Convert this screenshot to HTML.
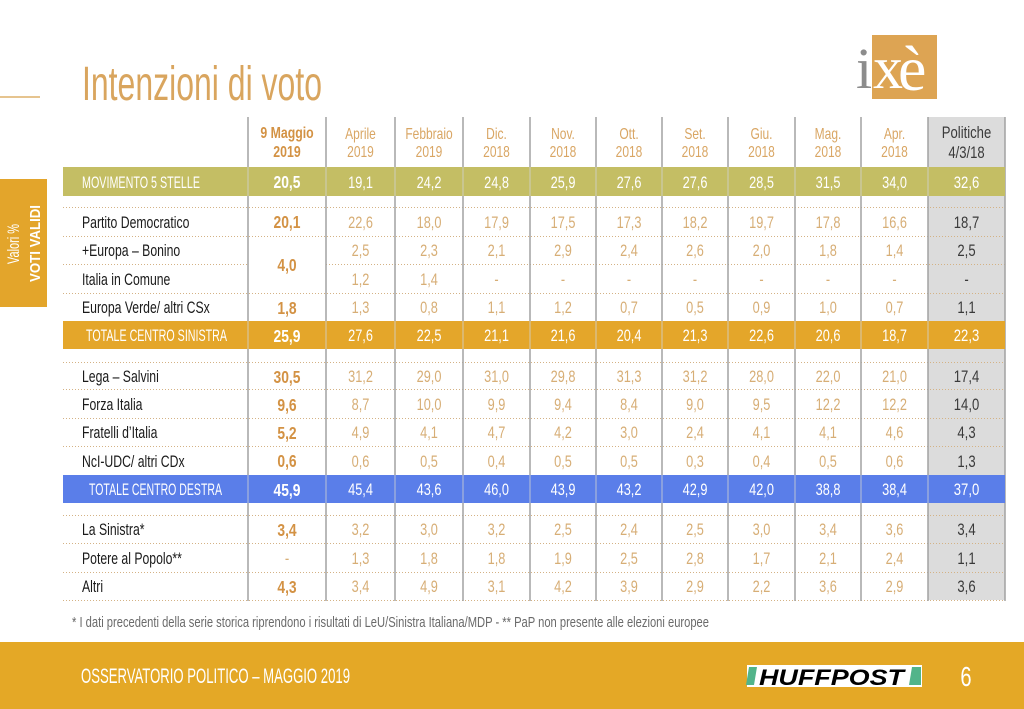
<!DOCTYPE html>
<html><head><meta charset="utf-8"><style>
html,body{margin:0;padding:0;background:#fff;}
svg{display:block;font-family:"Liberation Sans",sans-serif;}
.h{fill:#D9A664;font-size:16px}
.n text{fill:#D7AE76;font-size:17px}
.n text.w{fill:#fff}
.n text.h{fill:#D9A664;font-size:16px}
.b text{fill:#D39244;font-size:18px;font-weight:bold}
.b text.w{fill:#fff}
.b text.h{font-size:16px}
.b text.l{fill:#D7AE76;font-weight:normal;font-size:17px}
.p text{fill:#3a3a3a;font-size:17px}
.p text.w{fill:#fff}
.lab text{fill:#1a1a1a;font-size:17px}
</style></head><body>
<svg width="1024" height="709" viewBox="0 0 1024 709" xmlns="http://www.w3.org/2000/svg">
<rect width="1024" height="709" fill="#fff"/>
<!-- title -->
<line x1="0" y1="97" x2="40" y2="97" stroke="#DDB06A" stroke-width="1.5"/>
<text x="82" y="100" font-size="48" fill="#D9A55E" textLength="240" lengthAdjust="spacingAndGlyphs">Intenzioni di voto</text>
<!-- logo -->
<rect x="872" y="35" width="65" height="64" fill="#DDA453"/>
<text x="856" y="88" font-family="Liberation Serif, serif" font-size="58" fill="#8c8c8c">i</text>
<text x="873" y="88" font-family="Liberation Serif, serif" font-size="60" fill="#fff">x</text>
<text x="898" y="90" font-family="Liberation Serif, serif" font-size="64" fill="#fff">è</text>
<!-- sidebar -->
<rect x="0" y="179" width="47" height="128" fill="#E3A52B"/>
<g transform="translate(19,244) rotate(-90)"><text x="0" y="0" text-anchor="middle" font-size="17" fill="#fff" textLength="40" lengthAdjust="spacingAndGlyphs">Valori %</text></g>
<g transform="translate(40,243.5) rotate(-90)"><text x="0" y="0" text-anchor="middle" font-size="15" font-weight="bold" fill="#fff" textLength="77" lengthAdjust="spacingAndGlyphs">VOTI VALIDI</text></g>
<!-- grey column -->
<rect x="928" y="117" width="77" height="483" fill="#DCDCDC"/>
<!-- dotted lines -->
<g stroke="#D4B285" stroke-width="1" stroke-dasharray="1,2">
<line x1="63" y1="207.5" x2="1005" y2="207.5"/>
<line x1="63" y1="236.5" x2="1005" y2="236.5"/>
<line x1="63" y1="264.5" x2="248" y2="264.5"/>
<line x1="326" y1="264.5" x2="1005" y2="264.5"/>
<line x1="63" y1="293.5" x2="1005" y2="293.5"/>
<line x1="63" y1="362.5" x2="1005" y2="362.5"/>
<line x1="63" y1="389.5" x2="1005" y2="389.5"/>
<line x1="63" y1="418.5" x2="1005" y2="418.5"/>
<line x1="63" y1="446.5" x2="1005" y2="446.5"/>
<line x1="63" y1="515.5" x2="1005" y2="515.5"/>
<line x1="63" y1="543.5" x2="1005" y2="543.5"/>
<line x1="63" y1="572.5" x2="1005" y2="572.5"/>
<line x1="63" y1="600.5" x2="1005" y2="600.5"/>
</g>
<!-- vertical lines -->
<g stroke="#A2A2A2" stroke-width="1.5">
<line x1="248" y1="117" x2="248" y2="601"/>
<line x1="326" y1="117" x2="326" y2="601"/>
<line x1="395" y1="117" x2="395" y2="601"/>
<line x1="463" y1="117" x2="463" y2="601"/>
<line x1="530" y1="117" x2="530" y2="601"/>
<line x1="596" y1="117" x2="596" y2="601"/>
<line x1="662" y1="117" x2="662" y2="601"/>
<line x1="728" y1="117" x2="728" y2="601"/>
<line x1="795" y1="117" x2="795" y2="601"/>
<line x1="861" y1="117" x2="861" y2="601"/>
<line x1="928" y1="117" x2="928" y2="601"/>
<line x1="1005" y1="117" x2="1005" y2="601"/>
</g>
<!-- bands -->
<rect x="63" y="167" width="942" height="29" fill="#C4BE64"/>
<rect x="63" y="321" width="942" height="28" fill="#E4A62A"/>
<rect x="63" y="475" width="942" height="28" fill="#5A7EE9"/>
<g stroke="rgba(210,210,210,0.55)" stroke-width="1.5">
<path d="M248 167V196M326 167V196M395 167V196M463 167V196M530 167V196M596 167V196M662 167V196M728 167V196M795 167V196M861 167V196M928 167V196"/>
<path d="M248 321V349M326 321V349M395 321V349M463 321V349M530 321V349M596 321V349M662 321V349M728 321V349M795 321V349M861 321V349M928 321V349"/>
<path d="M248 475V503M326 475V503M395 475V503M463 475V503M530 475V503M596 475V503M662 475V503M728 475V503M795 475V503M861 475V503M928 475V503"/>
</g>
<!-- band labels -->
<text x="82" y="188" font-size="17" fill="#fff" textLength="118" lengthAdjust="spacingAndGlyphs">MOVIMENTO 5 STELLE</text>
<text x="86" y="341" font-size="17" fill="#fff" textLength="141" lengthAdjust="spacingAndGlyphs">TOTALE CENTRO SINISTRA</text>
<text x="89" y="495" font-size="17" fill="#fff" textLength="133" lengthAdjust="spacingAndGlyphs">TOTALE CENTRO DESTRA</text>
<!-- row labels -->
<g class="lab" transform="translate(82,0) scale(.72,1)">
<text x="0" y="228">Partito Democratico</text>
<text x="0" y="256">+Europa – Bonino</text>
<text x="0" y="285">Italia in Comune</text>
<text x="0" y="313">Europa Verde/ altri CSx</text>
<text x="0" y="382">Lega – Salvini</text>
<text x="0" y="410">Forza Italia</text>
<text x="0" y="438">Fratelli d’Italia</text>
<text x="0" y="467">NcI-UDC/ altri CDx</text>
<text x="0" y="535">La Sinistra*</text>
<text x="0" y="564">Potere al Popolo**</text>
<text x="0" y="592">Altri</text>
</g>
<!-- col 1 -->
<g class="b" transform="translate(287,0) scale(.77,1)" text-anchor="middle">
<text class="h" y="138">9 Maggio</text><text class="h" y="157">2019</text>
<text class="w" y="188">20,5</text>
<text y="228">20,1</text>
<text y="271">4,0</text>
<text y="314">1,8</text>
<text class="w" y="342">25,9</text>
<text y="383">30,5</text>
<text y="411">9,6</text>
<text y="439">5,2</text>
<text y="467">0,6</text>
<text class="w" y="496">45,9</text>
<text y="536">3,4</text>
<text class="l" y="564">-</text>
<text y="593">4,3</text>
</g>
<!-- col 2 -->
<g class="n" transform="translate(360.5,0) scale(.75,1)" text-anchor="middle">
<text class="h" y="139">Aprile</text><text class="h" y="157">2019</text>
<text class="w" y="188">19,1</text><text y="228">22,6</text><text y="256">2,5</text><text y="285">1,2</text><text y="313">1,3</text><text class="w" y="341">27,6</text><text y="382">31,2</text><text y="410">8,7</text><text y="438">4,9</text><text y="467">0,6</text><text class="w" y="495">45,4</text><text y="535">3,2</text><text y="564">1,3</text><text y="592">3,4</text>
</g>
<!-- col 3 -->
<g class="n" transform="translate(429,0) scale(.75,1)" text-anchor="middle">
<text class="h" y="139">Febbraio</text><text class="h" y="157">2019</text>
<text class="w" y="188">24,2</text><text y="228">18,0</text><text y="256">2,3</text><text y="285">1,4</text><text y="313">0,8</text><text class="w" y="341">22,5</text><text y="382">29,0</text><text y="410">10,0</text><text y="438">4,1</text><text y="467">0,5</text><text class="w" y="495">43,6</text><text y="535">3,0</text><text y="564">1,8</text><text y="592">4,9</text>
</g>
<!-- col 4 -->
<g class="n" transform="translate(496.5,0) scale(.75,1)" text-anchor="middle">
<text class="h" y="139">Dic.</text><text class="h" y="157">2018</text>
<text class="w" y="188">24,8</text><text y="228">17,9</text><text y="256">2,1</text><text y="285">-</text><text y="313">1,1</text><text class="w" y="341">21,1</text><text y="382">31,0</text><text y="410">9,9</text><text y="438">4,7</text><text y="467">0,4</text><text class="w" y="495">46,0</text><text y="535">3,2</text><text y="564">1,8</text><text y="592">3,1</text>
</g>
<!-- col 5 -->
<g class="n" transform="translate(563,0) scale(.75,1)" text-anchor="middle">
<text class="h" y="139">Nov.</text><text class="h" y="157">2018</text>
<text class="w" y="188">25,9</text><text y="228">17,5</text><text y="256">2,9</text><text y="285">-</text><text y="313">1,2</text><text class="w" y="341">21,6</text><text y="382">29,8</text><text y="410">9,4</text><text y="438">4,2</text><text y="467">0,5</text><text class="w" y="495">43,9</text><text y="535">2,5</text><text y="564">1,9</text><text y="592">4,2</text>
</g>
<!-- col 6 -->
<g class="n" transform="translate(629,0) scale(.75,1)" text-anchor="middle">
<text class="h" y="139">Ott.</text><text class="h" y="157">2018</text>
<text class="w" y="188">27,6</text><text y="228">17,3</text><text y="256">2,4</text><text y="285">-</text><text y="313">0,7</text><text class="w" y="341">20,4</text><text y="382">31,3</text><text y="410">8,4</text><text y="438">3,0</text><text y="467">0,5</text><text class="w" y="495">43,2</text><text y="535">2,4</text><text y="564">2,5</text><text y="592">3,9</text>
</g>
<!-- col 7 -->
<g class="n" transform="translate(695,0) scale(.75,1)" text-anchor="middle">
<text class="h" y="139">Set.</text><text class="h" y="157">2018</text>
<text class="w" y="188">27,6</text><text y="228">18,2</text><text y="256">2,6</text><text y="285">-</text><text y="313">0,5</text><text class="w" y="341">21,3</text><text y="382">31,2</text><text y="410">9,0</text><text y="438">2,4</text><text y="467">0,3</text><text class="w" y="495">42,9</text><text y="535">2,5</text><text y="564">2,8</text><text y="592">2,9</text>
</g>
<!-- col 8 -->
<g class="n" transform="translate(761.5,0) scale(.75,1)" text-anchor="middle">
<text class="h" y="139">Giu.</text><text class="h" y="157">2018</text>
<text class="w" y="188">28,5</text><text y="228">19,7</text><text y="256">2,0</text><text y="285">-</text><text y="313">0,9</text><text class="w" y="341">22,6</text><text y="382">28,0</text><text y="410">9,5</text><text y="438">4,1</text><text y="467">0,4</text><text class="w" y="495">42,0</text><text y="535">3,0</text><text y="564">1,7</text><text y="592">2,2</text>
</g>
<!-- col 9 -->
<g class="n" transform="translate(828,0) scale(.75,1)" text-anchor="middle">
<text class="h" y="139">Mag.</text><text class="h" y="157">2018</text>
<text class="w" y="188">31,5</text><text y="228">17,8</text><text y="256">1,8</text><text y="285">-</text><text y="313">1,0</text><text class="w" y="341">20,6</text><text y="382">22,0</text><text y="410">12,2</text><text y="438">4,1</text><text y="467">0,5</text><text class="w" y="495">38,8</text><text y="535">3,4</text><text y="564">2,1</text><text y="592">3,6</text>
</g>
<!-- col 10 -->
<g class="n" transform="translate(894.5,0) scale(.75,1)" text-anchor="middle">
<text class="h" y="139">Apr.</text><text class="h" y="157">2018</text>
<text class="w" y="188">34,0</text><text y="228">16,6</text><text y="256">1,4</text><text y="285">-</text><text y="313">0,7</text><text class="w" y="341">18,7</text><text y="382">21,0</text><text y="410">12,2</text><text y="438">4,6</text><text y="467">0,6</text><text class="w" y="495">38,4</text><text y="535">3,6</text><text y="564">2,4</text><text y="592">2,9</text>
</g>
<!-- col 11 -->
<g class="p" transform="translate(966.5,0) scale(.77,1)" text-anchor="middle">
<text y="138">Politiche</text><text y="158">4/3/18</text>
<text class="w" y="188">32,6</text><text y="228">18,7</text><text y="256">2,5</text><text y="285">-</text><text y="313">1,1</text><text class="w" y="341">22,3</text><text y="382">17,4</text><text y="410">14,0</text><text y="438">4,3</text><text y="467">1,3</text><text class="w" y="495">37,0</text><text y="535">3,4</text><text y="564">1,1</text><text y="592">3,6</text>
</g>
<!-- footnote -->
<text x="72" y="627" font-size="15" fill="#6a6a6a" textLength="637" lengthAdjust="spacingAndGlyphs">* I dati precedenti della serie storica riprendono i risultati di LeU/Sinistra Italiana/MDP - ** PaP non presente alle elezioni europee</text>
<!-- footer -->
<rect x="0" y="642" width="1024" height="67" fill="#E4A826"/>
<text x="81" y="683" font-size="21" fill="#fff" textLength="269" lengthAdjust="spacingAndGlyphs">OSSERVATORIO POLITICO – MAGGIO 2019</text>
<rect x="747" y="665" width="175" height="22" fill="#fff"/>
<polygon points="749,667 757,667 754,685 746,685" fill="#52B48A"/>
<polygon points="912,667 921,667 921,685 909,685" fill="#52B48A"/>
<text x="759" y="685" font-size="22" font-weight="bold" font-style="italic" fill="#000" textLength="145" lengthAdjust="spacingAndGlyphs">HUFFPOST</text>
<g transform="translate(966,686) scale(.72,1)"><text x="0" y="0" text-anchor="middle" font-size="28" fill="#fff">6</text></g>
</svg>
</body></html>
